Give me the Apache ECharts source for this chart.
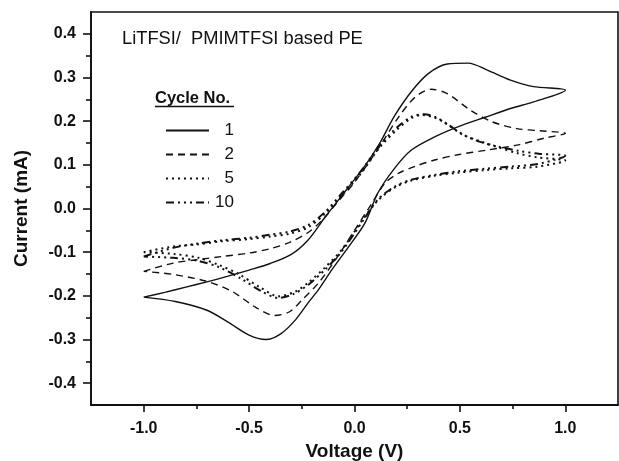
<!DOCTYPE html>
<html>
<head>
<meta charset="utf-8">
<script src="https://cdn.jsdelivr.net/npm/echarts@6/dist/echarts.min.js"></script>
<style>
html,body{margin:0;padding:0;background:#fff;}
#chart{width:619px;height:461px;}
</style>
</head>
<body>
<div id="chart"></div>
<script>
// ---- Data ----
const cycleNames = ['1', '2', '5', '10'];

const cycle1Voltage = [-1.00,-0.90,-0.80,-0.70,-0.60,-0.50,-0.40,-0.30,-0.22,-0.14,-0.03,0.05,0.12,0.19,0.27,0.35,0.44,0.54,0.63,0.74,0.85,1.00,
  0.85,0.74,0.62,0.49,0.38,0.27,0.19,0.11,0.05,-0.03,-0.107,-0.17,-0.22,-0.28,-0.35,-0.42,-0.50,-0.60,-0.70,-0.85,-1.00];
const cycle1Current = [-0.203,-0.192,-0.180,-0.168,-0.155,-0.141,-0.126,-0.105,-0.072,-0.020,0.048,0.098,0.150,0.212,0.268,0.309,0.331,0.333,0.317,0.294,0.279,0.271,
  0.244,0.229,0.209,0.187,0.164,0.134,0.092,0.035,-0.033,-0.089,-0.140,-0.185,-0.216,-0.255,-0.287,-0.300,-0.290,-0.260,-0.233,-0.213,-0.203];

const cycle2Voltage = [-1.00,-0.86,-0.74,-0.63,-0.50,-0.40,-0.31,-0.22,-0.15,-0.08,0.00,0.11,0.21,0.29,0.365,0.44,0.55,0.65,0.77,0.88,1.00,
  0.90,0.77,0.63,0.49,0.38,0.29,0.21,0.145,0.08,0.00,-0.08,-0.17,-0.25,-0.31,-0.38,-0.47,-0.58,-0.70,-0.86,-1.00];
const cycle2Current = [-0.144,-0.125,-0.117,-0.110,-0.102,-0.092,-0.078,-0.055,-0.025,0.015,0.060,0.135,0.210,0.256,0.273,0.263,0.225,0.199,0.183,0.178,0.172,
  0.161,0.145,0.134,0.123,0.111,0.097,0.081,0.058,0.010,-0.050,-0.110,-0.170,-0.210,-0.237,-0.245,-0.226,-0.190,-0.167,-0.151,-0.144];

const cycle5Voltage = [-1.00,-0.86,-0.74,-0.63,-0.50,-0.40,-0.31,-0.22,-0.14,-0.06,0.03,0.12,0.20,0.27,0.32,0.38,0.43,0.51,0.59,0.67,0.77,0.87,1.00,
  0.87,0.74,0.62,0.49,0.38,0.27,0.19,0.11,0.04,-0.06,-0.14,-0.22,-0.28,-0.36,-0.45,-0.55,-0.64,-0.74,-0.86,-1.00];
const cycle5Current = [-0.100,-0.087,-0.082,-0.075,-0.070,-0.064,-0.058,-0.043,-0.012,0.030,0.080,0.140,0.180,0.207,0.214,0.208,0.196,0.170,0.155,0.142,0.127,0.117,0.110,
  0.096,0.092,0.088,0.082,0.075,0.064,0.048,0.018,-0.025,-0.094,-0.135,-0.170,-0.190,-0.201,-0.180,-0.150,-0.130,-0.113,-0.104,-0.100];

const cycle10Voltage = [-1.00,-0.86,-0.74,-0.63,-0.50,-0.40,-0.31,-0.22,-0.14,-0.06,0.03,0.12,0.20,0.27,0.33,0.39,0.45,0.52,0.60,0.68,0.78,0.88,1.00,
  0.87,0.74,0.62,0.49,0.38,0.27,0.19,0.11,0.04,-0.06,-0.14,-0.22,-0.29,-0.36,-0.44,-0.54,-0.64,-0.74,-0.86,-1.00];
const cycle10Current = [-0.110,-0.090,-0.080,-0.073,-0.067,-0.060,-0.053,-0.038,-0.008,0.035,0.085,0.145,0.185,0.210,0.216,0.208,0.190,0.168,0.152,0.142,0.132,0.125,0.121,
  0.102,0.096,0.091,0.085,0.077,0.066,0.050,0.020,-0.028,-0.098,-0.140,-0.175,-0.196,-0.205,-0.190,-0.160,-0.135,-0.120,-0.113,-0.110];

const xMajorTicks = [-1.0, -0.5, 0.0, 0.5, 1.0];
const xMinorTicks = [-0.75, -0.25, 0.25, 0.75];
const yMajorTicks = [-0.4, -0.3, -0.2, -0.1, 0.0, 0.1, 0.2, 0.3, 0.4];
const yMinorTicks = [-0.35, -0.25, -0.15, -0.05, 0.05, 0.15, 0.25, 0.35];

// ---- Build ----
function pairs(xs, ys) { return xs.map((x, i) => [x, ys[i]]); }
const FONT = 'Liberation Sans, Arial, Helvetica, sans-serif';
const INK = '#111';

const styles = {
  '1':  { type: 'solid', width: 1.4 },
  '2':  { type: [7, 5], width: 1.4 },
  '5':  { type: [2, 4], width: 2 },
  '10': { type: [8, 4, 2, 4, 2, 4, 2, 4], width: 2 }
};
const dataSets = {
  '1': pairs(cycle1Voltage, cycle1Current),
  '2': pairs(cycle2Voltage, cycle2Current),
  '5': pairs(cycle5Voltage, cycle5Current),
  '10': pairs(cycle10Voltage, cycle10Current)
};

const chart = echarts.init(document.getElementById('chart'), null, { renderer: 'canvas' });

const grid = { left: 91, right: 1, top: 12, bottom: 56, show: true, borderColor: INK, borderWidth: 1.6, backgroundColor: 'transparent', containLabel: false, outerBoundsMode: 'none' };

const option = {
  backgroundColor: '#fff',
  animation: false,
  grid: grid,
  xAxis: [
    {
      type: 'value', min: -1.25, max: 1.25,
      name: 'Voltage (V)', nameLocation: 'middle', nameGap: 34,
      nameTextStyle: { fontFamily: FONT, fontWeight: 'bold', fontSize: 19, color: INK },
      axisLine: { show: true, onZero: false, lineStyle: { color: INK, width: 1.8 } },
      axisTick: { show: true, inside: false, length: 7, customValues: xMajorTicks, lineStyle: { color: INK, width: 1.6 } },
      axisLabel: { show: true, margin: 16, customValues: xMajorTicks, fontFamily: FONT, fontWeight: 'bold', fontSize: 16, color: INK,
        formatter: v => v.toFixed(1) },
      splitLine: { show: false }
    },
    {
      type: 'value', min: -1.25, max: 1.25, position: 'bottom',
      axisLine: { show: false, onZero: false },
      axisTick: { show: true, inside: false, length: 4, customValues: xMinorTicks, lineStyle: { color: INK, width: 1.6 } },
      axisLabel: { show: false },
      splitLine: { show: false }
    }
  ],
  yAxis: [
    {
      type: 'value', min: -0.45, max: 0.45,
      name: 'Current (mA)', nameLocation: 'middle', nameGap: 60,
      nameTextStyle: { fontFamily: FONT, fontWeight: 'bold', fontSize: 19, color: INK },
      axisLine: { show: true, onZero: false, lineStyle: { color: INK, width: 1.8 } },
      axisTick: { show: true, inside: false, length: 8, customValues: yMajorTicks, lineStyle: { color: INK, width: 1.6 } },
      axisLabel: { show: true, margin: 15, customValues: yMajorTicks, fontFamily: FONT, fontWeight: 'bold', fontSize: 16, color: INK,
        formatter: v => v.toFixed(1) },
      splitLine: { show: false }
    },
    {
      type: 'value', min: -0.45, max: 0.45, position: 'left',
      axisLine: { show: false, onZero: false },
      axisTick: { show: true, inside: false, length: 5, customValues: yMinorTicks, lineStyle: { color: INK, width: 1.6 } },
      axisLabel: { show: false },
      splitLine: { show: false }
    }
  ],
  legend: {
    show: true,
    orient: 'vertical',
    left: 165, top: 122,
    itemWidth: 43, itemHeight: 14, itemGap: 7,
    padding: 0,
    data: cycleNames,
    itemStyle: { opacity: 0, color: 'rgba(0,0,0,0)', borderWidth: 0 },
    formatter: name => '{n|' + name + '}',
    textStyle: {
      color: INK, fontFamily: FONT, fontSize: 17,
      rich: { n: { width: 20, align: 'right', fontSize: 17, fontFamily: FONT, color: INK, lineHeight: 16 } }
    }
  },
  graphic: [
    { type: 'text', left: 122, top: 30, style: { text: 'LiTFSI/  PMIMTFSI based PE', fontFamily: FONT, fontSize: 18.3, fill: INK } },
    { type: 'text', left: 155, top: 90, style: { text: 'Cycle No.', fontFamily: FONT, fontSize: 16.5, fontWeight: 'bold', fill: INK } },
    { type: 'line', shape: { x1: 155, y1: 106.5, x2: 234, y2: 106.5 }, style: { stroke: INK, lineWidth: 1.4 } }
  ],
  series: cycleNames.map(n => ({
    name: n,
    type: 'line',
    xAxisIndex: 0, yAxisIndex: 0,
    data: dataSets[n],
    showSymbol: false,
    symbol: 'none',
    smooth: 0.3,
    lineStyle: { color: INK, width: styles[n].width, type: styles[n].type },
    itemStyle: { color: INK },
    emphasis: { disabled: true }
  }))
};
chart.setOption(option);
</script>
</body>
</html>
